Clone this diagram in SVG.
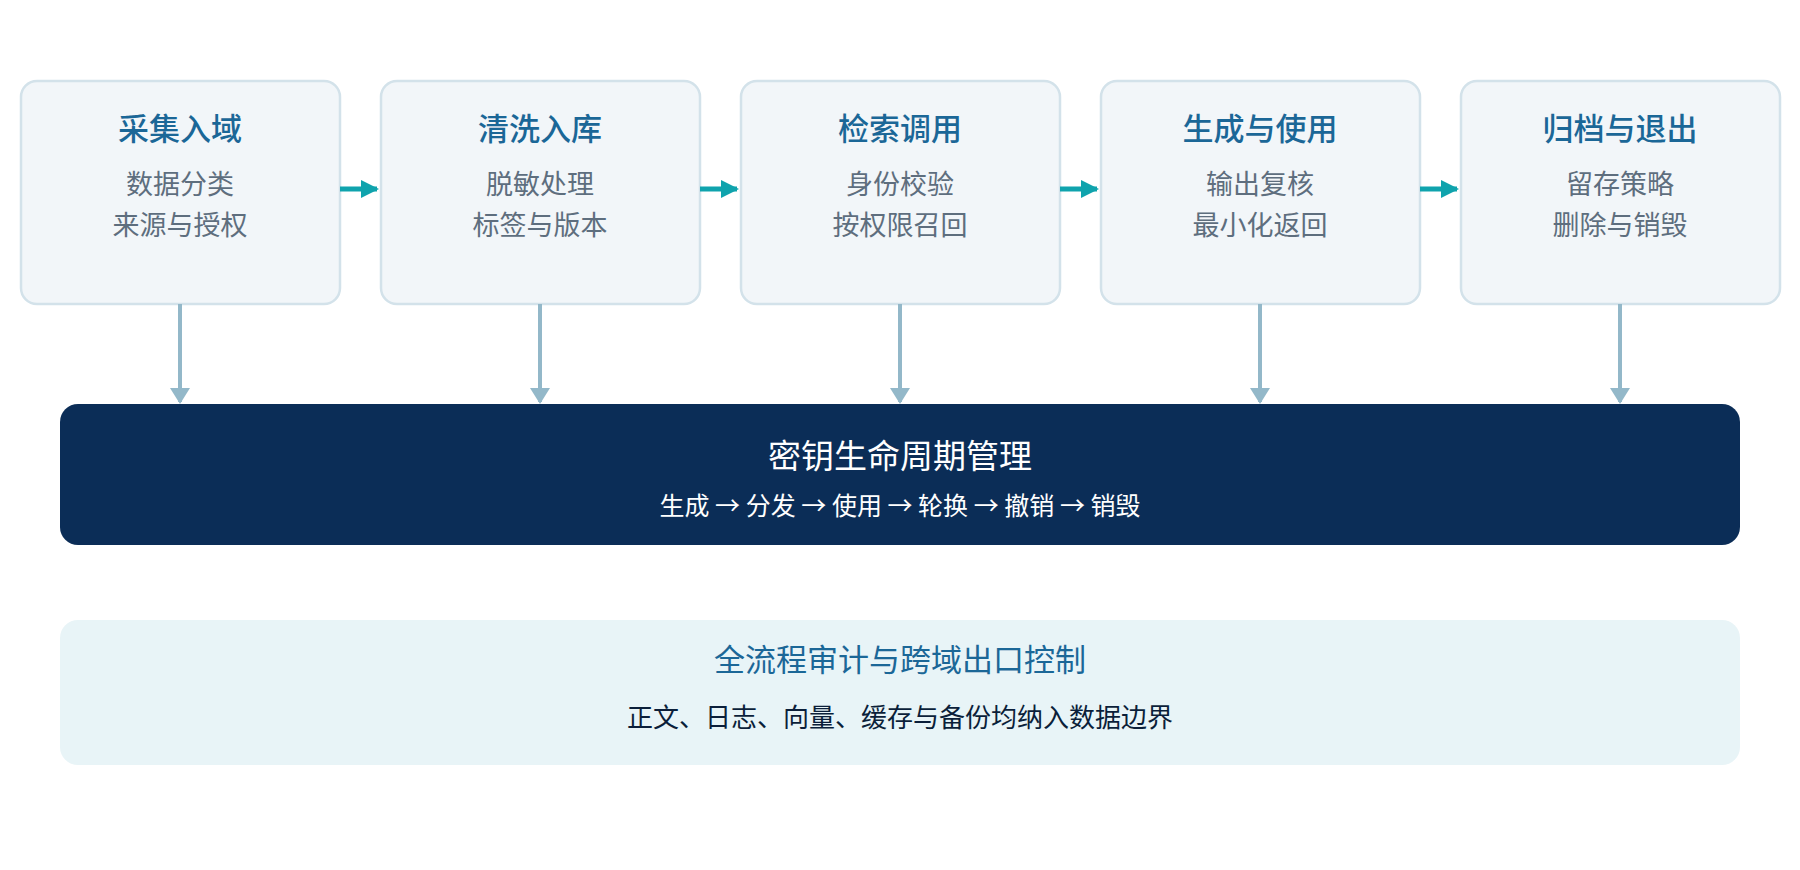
<svg xmlns="http://www.w3.org/2000/svg" width="1800" height="870" viewBox="0 0 1800 870">
<defs>
<style>
text{font-family:"Noto Sans CJK SC","Noto Sans",sans-serif;text-anchor:middle}
.box{fill:#f2f6f9;stroke:#d3e2ea;stroke-width:2.5}
.t{font-size:31px;fill:#1b6797;font-weight:500}
.s{font-size:27px;fill:#5e6e7e}
.h{stroke:#0fa3ad;stroke-width:5;fill:none}
.v{stroke:#93b8c9;stroke-width:4;fill:none}
</style>
<marker id="ah" markerWidth="8" markerHeight="8" refX="6" refY="4" orient="auto" markerUnits="userSpaceOnUse" viewBox="0 0 8 8"><path d="M0,0L8,4L0,8Z" fill="#0fa3ad"/></marker>
<marker id="av" viewBox="0 0 16 20" markerWidth="16" markerHeight="20" refX="14" refY="10" orient="auto" markerUnits="userSpaceOnUse"><path d="M0,0L16,10L0,20Z" fill="#93b8c9"/></marker>
<marker id="ah2" viewBox="0 0 18 18" markerWidth="18" markerHeight="18" refX="16" refY="9" orient="auto" markerUnits="userSpaceOnUse"><path d="M0,0L18,9L0,18Z" fill="#0fa3ad"/></marker>
</defs>
<rect width="1800" height="870" fill="#fff"/>
<g id="n1"><rect class="box" x="21" y="81" width="319" height="223" rx="16"/><text class="t" x="180" y="140">采集入域</text><text class="s" x="180" y="194">数据分类</text><text class="s" x="180" y="235">来源与授权</text></g>
<g id="n2"><rect class="box" x="381" y="81" width="319" height="223" rx="16"/><text class="t" x="540" y="140">清洗入库</text><text class="s" x="540" y="194">脱敏处理</text><text class="s" x="540" y="235">标签与版本</text></g>
<g id="n3"><rect class="box" x="741" y="81" width="319" height="223" rx="16"/><text class="t" x="900" y="140">检索调用</text><text class="s" x="900" y="194">身份校验</text><text class="s" x="900" y="235">按权限召回</text></g>
<g id="n4"><rect class="box" x="1101" y="81" width="319" height="223" rx="16"/><text class="t" x="1260" y="140">生成与使用</text><text class="s" x="1260" y="194">输出复核</text><text class="s" x="1260" y="235">最小化返回</text></g>
<g id="n5"><rect class="box" x="1461" y="81" width="319" height="223" rx="16"/><text class="t" x="1620" y="140">归档与退出</text><text class="s" x="1620" y="194">留存策略</text><text class="s" x="1620" y="235">删除与销毁</text></g>
<g id="keys"><rect x="60" y="404" width="1680" height="141" rx="18" fill="#0b2d57"/><text x="900" y="468" font-size="33" fill="#fff">密钥生命周期管理</text><text x="900" y="515" font-size="25" fill="#fff">生成 → 分发 → 使用 → 轮换 → 撤销 → 销毁</text></g>
<g id="audit"><rect x="60" y="620" width="1680" height="145" rx="18" fill="#e8f4f7"/><text x="900" y="671" font-size="31" fill="#1b6797">全流程审计与跨域出口控制</text><text x="900" y="727" font-size="26" fill="#0b1f3a">正文、日志、向量、缓存与备份均纳入数据边界</text></g>
<g id="connectors">
<path class="h" d="M340,189H377" marker-end="url(#ah2)"/>
<path class="h" d="M700,189H737" marker-end="url(#ah2)"/>
<path class="h" d="M1060,189H1097" marker-end="url(#ah2)"/>
<path class="h" d="M1420,189H1457" marker-end="url(#ah2)"/>
<path class="v" d="M180,304V402" marker-end="url(#av)"/>
<path class="v" d="M540,304V402" marker-end="url(#av)"/>
<path class="v" d="M900,304V402" marker-end="url(#av)"/>
<path class="v" d="M1260,304V402" marker-end="url(#av)"/>
<path class="v" d="M1620,304V402" marker-end="url(#av)"/>
</g>
</svg>
